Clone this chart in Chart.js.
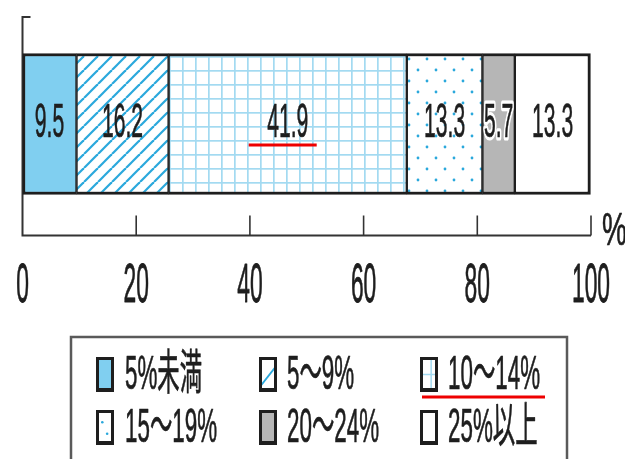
<!DOCTYPE html>
<html><head><meta charset="utf-8">
<script src="https://cdn.jsdelivr.net/npm/chart.js@4"></script>
<style>html,body{margin:0;padding:0;background:#fff;}canvas{display:block;}</style>
</head><body>
<canvas id="c" width="625" height="459"></canvas>
<script>
// ---- data ----
const categories = [''];
const seriesLabels = ['5%未満', '5～9%', '10～14%', '15～19%', '20～24%', '25%以上'];
const seriesValues = [9.5, 16.2, 41.9, 13.3, 5.7, 13.3];
const xTickValues = [0, 20, 40, 60, 80, 100];
const axisUnit = '%';

// ---- styles ----
const FONT = '"Liberation Sans", "Noto Sans CJK JP", sans-serif';
const INK = '#1e1e1e';
const BLUE_FILL = '#80cff0';
const BLUE_LINE = '#2aa8dc';
const GRID_LINE = '#a3daf1';
const GRAY_FILL = '#b6b6b6';

function makePattern(kind) {
  const c = document.createElement('canvas');
  const g = c.getContext('2d');
  if (kind === 'hatch') {
    const s = 14; c.width = s; c.height = s;
    g.fillStyle = '#fff'; g.fillRect(0, 0, s, s);
    g.strokeStyle = BLUE_LINE; g.lineWidth = 2.2;
    for (const o of [-s, 0, s]) { g.beginPath(); g.moveTo(o, s); g.lineTo(o + s, 0); g.stroke(); }
  } else if (kind === 'grid') {
    c.width = 13; c.height = 14;
    g.fillStyle = '#fff'; g.fillRect(0, 0, 13, 14);
    g.fillStyle = GRID_LINE; g.fillRect(0, 0, 13, 1.7); g.fillRect(0, 0, 1.7, 14);
  } else if (kind === 'dots') {
    c.width = 18; c.height = 22;
    g.fillStyle = '#fff'; g.fillRect(0, 0, 18, 22);
    g.fillStyle = BLUE_LINE;
    for (const [x, y] of [[4, 4], [13, 15]]) { g.beginPath(); g.arc(x, y, 1.4, 0, Math.PI * 2); g.fill(); }
  }
  return document.getElementById('c').getContext('2d').createPattern(c, 'repeat');
}
const fills = [BLUE_FILL, makePattern('hatch'), makePattern('grid'), makePattern('dots'), GRAY_FILL, '#ffffff'];
const markerKinds = ['fill', 'hatch', 'grid', 'dots', 'gray', 'white'];

// Condensed, vertically stretched text (digit height ~targetH px).
const BASE_SIZE = 40;
const H_FIX = 1.16;
function stretchText(ctx, text, x, y, targetH, aspect, align, halo) {
  ctx.save();
  ctx.font = BASE_SIZE + 'px ' + FONT;
  const h0 = ctx.measureText('0').actualBoundingBoxAscent || BASE_SIZE * 0.7;
  const k = targetH / h0;
  ctx.translate(x, y);
  ctx.scale(k * aspect, k * H_FIX);
  ctx.textAlign = align || 'center';
  ctx.textBaseline = 'alphabetic';
  ctx.lineJoin = 'round';
  if (halo) { ctx.strokeStyle = '#fff'; ctx.lineWidth = 6; ctx.strokeText(text, 0, 0); }
  ctx.fillStyle = INK; ctx.strokeStyle = INK; ctx.lineWidth = 0.6;
  ctx.fillText(text, 0, 0);
  ctx.strokeText(text, 0, 0);
  ctx.restore();
}

const n = seriesValues.length;
const datasets = seriesValues.map((v, i) => ({
  label: seriesLabels[i],
  data: [v],
  backgroundColor: fills[i],
  borderColor: INK,
  borderWidth: { top: 3, bottom: 3, left: i === 0 ? 3 : 1.5, right: i === n - 1 ? 3 : 1.5 },
  borderSkipped: false,
  barThickness: 141
}));

const axisPlugin = {
  id: 'axisPlugin',
  beforeDatasetsDraw(chart) {
    const ctx = chart.ctx, xs = chart.scales.x, ca = chart.chartArea;
    const x0 = xs.getPixelForValue(0);
    ctx.save();
    ctx.strokeStyle = '#333'; ctx.lineWidth = 2;
    ctx.beginPath();
    ctx.moveTo(x0 + 8, ca.top + 4.5);
    ctx.lineTo(x0, ca.top + 4.5);
    ctx.lineTo(x0, ca.bottom);
    ctx.lineTo(xs.getPixelForValue(100), ca.bottom);
    ctx.stroke();
    ctx.restore();
  },
  afterDatasetsDraw(chart) {
    const ctx = chart.ctx, xs = chart.scales.x, ca = chart.chartArea;
    // tick marks
    ctx.save();
    ctx.strokeStyle = '#333'; ctx.lineWidth = 1.6;
    xTickValues.forEach(v => {
      if (v === 0) return;
      const x = xs.getPixelForValue(v);
      ctx.beginPath(); ctx.moveTo(x, ca.bottom); ctx.lineTo(x, ca.bottom - 20); ctx.stroke();
    });
    ctx.restore();
    // tick labels
    xTickValues.forEach(v => {
      stretchText(ctx, String(v), xs.getPixelForValue(v), ca.bottom + 66.5, 34, 0.47, 'center');
    });
    stretchText(ctx, axisUnit, xs.getPixelForValue(100) + 11, ca.bottom + 9.5, 28, 0.7, 'left');
    // bar value labels
    chart.data.datasets.forEach((ds, i) => {
      const el = chart.getDatasetMeta(i).data[0];
      const cx = (el.x + el.base) / 2;
      stretchText(ctx, ds.data[0].toFixed(1), cx, el.y + 13, 29, 0.51, 'center', i === 4);
      if (i === 2) {
        ctx.save();
        ctx.strokeStyle = '#ee0000'; ctx.lineWidth = 3;
        ctx.beginPath(); ctx.moveTo(cx - 39, el.y + 21); ctx.lineTo(cx + 29, el.y + 21); ctx.stroke();
        ctx.restore();
      }
    });
    drawLegend(ctx);
  }
};

function drawMarker(ctx, kind, x, y, w, h) {
  ctx.save();
  ctx.fillStyle = kind === 'fill' ? BLUE_FILL : kind === 'gray' ? GRAY_FILL : '#fff';
  ctx.fillRect(x, y, w, h);
  ctx.beginPath(); ctx.rect(x, y, w, h); ctx.clip();
  if (kind === 'hatch') {
    ctx.strokeStyle = BLUE_LINE; ctx.lineWidth = 2;
    ctx.beginPath(); ctx.moveTo(x, y + h - 4); ctx.lineTo(x + w, y + 8); ctx.stroke();
  } else if (kind === 'grid') {
    ctx.strokeStyle = GRID_LINE; ctx.lineWidth = 1.5;
    ctx.beginPath(); ctx.moveTo(x, y + h / 2); ctx.lineTo(x + w, y + h / 2);
    ctx.moveTo(x + w * 0.62, y); ctx.lineTo(x + w * 0.62, y + h); ctx.stroke();
  } else if (kind === 'dots') {
    ctx.fillStyle = BLUE_LINE;
    for (const [dx, dy] of [[0.35, 0.35], [0.62, 0.68]]) {
      ctx.beginPath(); ctx.arc(x + w * dx, y + h * dy, 1.3, 0, Math.PI * 2); ctx.fill();
    }
  }
  ctx.restore();
  ctx.save();
  ctx.strokeStyle = INK; ctx.lineWidth = 3;
  ctx.strokeRect(x + 1.5, y + 1.5, w - 3, h - 3);
  ctx.fillStyle = INK; ctx.fillRect(x, y + h - 4, w, 4);
  ctx.restore();
}

function drawLegend(ctx) {
  ctx.save();
  ctx.strokeStyle = '#5a5a5a'; ctx.lineWidth = 2.5;
  ctx.strokeRect(71, 337, 496, 130);
  ctx.restore();
  const colMarkerX = [96, 259, 420];
  const colTextX = [125, 287, 448];
  const rowTop = [357, 410];
  const rowBase = [389, 442];
  seriesLabels.forEach((lab, i) => {
    const col = i % 3, row = Math.floor(i / 3);
    drawMarker(ctx, markerKinds[i], colMarkerX[col], rowTop[row], 18, 35);
    stretchText(ctx, lab, colTextX[col], rowBase[row], 29, 0.54, 'left');
  });
  ctx.save();
  ctx.strokeStyle = '#ee0000'; ctx.lineWidth = 3;
  ctx.beginPath(); ctx.moveTo(422, 397); ctx.lineTo(545, 397); ctx.stroke();
  ctx.restore();
}

new Chart(document.getElementById('c'), {
  type: 'bar',
  data: { labels: categories, datasets },
  options: {
    indexAxis: 'y',
    responsive: false,
    animation: false,
    devicePixelRatio: 1,
    layout: { padding: { left: 22.5, right: 34, top: 12.5, bottom: 223.5 } },
    scales: {
      x: { stacked: true, min: 0, max: 100, display: false },
      y: { stacked: true, display: false }
    },
    plugins: { legend: { display: false }, tooltip: { enabled: false } }
  },
  plugins: [axisPlugin]
});
</script>
</body></html>
